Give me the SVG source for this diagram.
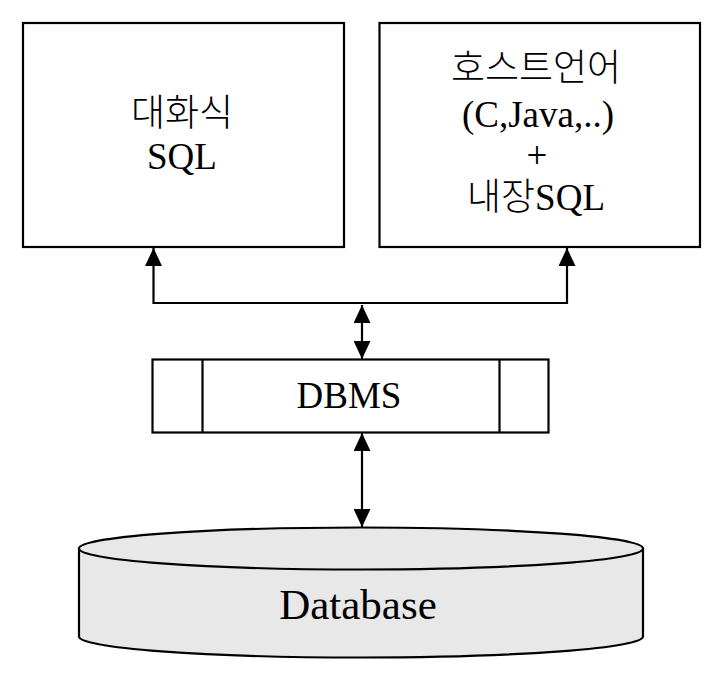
<svg xmlns="http://www.w3.org/2000/svg" width="720" height="684" viewBox="0 0 720 684">
  <style>
    .box { fill: #ffffff; stroke: #000000; stroke-width: 2.2; }
    .line { fill: none; stroke: #000000; stroke-width: 2.2; }
    .conn { fill: none; stroke: #000000; stroke-width: 2.2; marker-start: url(#arrow); marker-end: url(#arrow); }
    .db { fill: #e8e8e8; stroke: #000000; stroke-width: 2.2; }
    .t { font-family: "Liberation Serif", "Noto Sans CJK KR", serif; font-size: 37px; fill: #000000; text-anchor: middle; }
    .ko { font-family: "Noto Sans CJK KR", sans-serif; font-weight: 300; }
  </style>
  <defs>
    <marker id="arrow" viewBox="0 0 18 17" refX="18" refY="8.5" markerWidth="18" markerHeight="17" markerUnits="userSpaceOnUse" orient="auto-start-reverse">
      <path d="M0,0 L18,8.5 L0,17 Z" fill="#000000"/>
    </marker>
  </defs>
  <rect width="720" height="684" fill="#ffffff"/>

  <g id="connectors">
    <path class="conn" d="M153.5,248 V303 H567 V248"/>
    <path class="conn" d="M362,305 V359"/>
    <path class="conn" d="M362,433 V527"/>
  </g>

  <g id="interactive-sql">
    <rect class="box" x="23" y="23" width="321" height="224"/>
    <text class="t" x="182" y="126"><tspan class="ko">대화식</tspan></text>
    <text class="t" x="182" y="169">SQL</text>
  </g>

  <g id="host-language">
    <rect class="box" x="379.5" y="23" width="320.5" height="224"/>
    <text class="t" x="536" y="80.5"><tspan class="ko">호스트언어</tspan></text>
    <text class="t" x="538" y="127">(C,Java,..)</text>
    <text class="t" x="537" y="168">+</text>
    <text class="t" x="536" y="210"><tspan class="ko">내장</tspan>SQL</text>
  </g>

  <g id="dbms">
    <rect class="box" x="152.5" y="359.5" width="396" height="73"/>
    <line class="line" x1="202.5" y1="359.5" x2="202.5" y2="432.5"/>
    <line class="line" x1="499.5" y1="359.5" x2="499.5" y2="432.5"/>
    <text class="t" x="349" y="408">DBMS</text>
  </g>

  <g id="database">
    <path class="db" d="M79,548.5 V636.5 A282,21 0 0 0 643,636.5 V548.5 Z"/>
    <ellipse class="db" cx="361" cy="548.5" rx="282" ry="21"/>
    <text class="t" x="358" y="619" style="font-size:43px">Database</text>
  </g>
</svg>
